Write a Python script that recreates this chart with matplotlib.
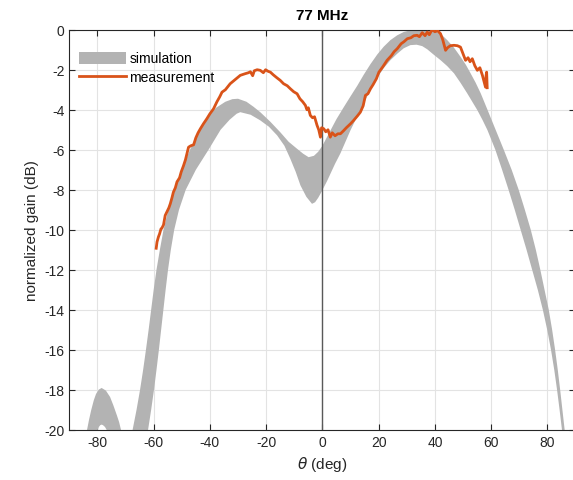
import matplotlib.pyplot as plt
import numpy as np

plt.rcParams['font.family'] = ['Liberation Sans', 'DejaVu Sans']
plt.rcParams['axes.unicode_minus'] = False

# simulation band: upper envelope (theta in deg, gain in dB)
theta_upper = [-90, -86, -84.5, -83.7, -83, -82.2, -81.3, -80.5, -79.5, -78.5, -77, -75.5, -74.3, -73,
               -72.3, -71.6, -71, -70.2, -69.5, -68.7, -68, -67.5, -66.1, -64.85, -63.75, -62.75, -61.8,
               -60.9, -60.0, -59.0, -57.8, -56.5, -54.8, -52.6, -50.0, -47.1, -43.5, -40, -37.8, -34.5,
               -32, -30, -27, -24.5, -22.1, -18.5, -15, -12, -9, -6.8, -4.9, -3, -1.5, 0, 1.5, 3, 5,
               7.6, 10, 12.4, 14.7, 17.1, 19.5, 21.8, 24.2, 26.6, 29, 31.3, 35, 39.6, 42, 44.4, 46.8,
               49.1, 51, 52.7, 54.5, 56.3, 58.7, 61.6, 64.5, 67.3, 69.8, 72, 74.1, 75.9, 77.5, 79, 80.5,
               81.7, 82.75, 83.7, 84.55, 85.35, 86.15, 87.5, 90]
gain_upper = [-30, -24, -21, -20, -19.5, -19.0, -18.52, -18.2, -17.98, -17.9, -18.03, -18.35, -18.78, -19.3,
              -19.6, -20, -20.6, -22, -23, -22, -20.7, -20, -19, -18, -17, -16, -15,
              -14, -13, -12, -11, -10, -9, -8, -7, -6, -5, -4.25, -3.9, -3.6,
              -3.47, -3.45, -3.6, -3.85, -4.12, -4.6, -5.12, -5.6, -5.95, -6.2, -6.37, -6.3, -6.1, -5.8, -5.4, -5.0, -4.47,
              -3.87, -3.33, -2.8, -2.25, -1.72, -1.24, -0.85, -0.52, -0.28, -0.11, -0.03, 0, -0.02, -0.2, -0.52, -0.9,
              -1.35, -1.75, -2.18, -2.65, -3.18, -4, -5, -6, -7, -8, -9, -10, -11, -12, -13, -14,
              -15, -16, -17, -18, -19, -20, -24, -30]

# simulation band: lower envelope
theta_lower = [-90, -81, -79.9, -79.5, -79, -78.5, -78, -77.3, -76.7, -75.5, -73, -65, -62.0, -60.9,
               -59.9, -59.0, -58.15, -57.35, -56.55, -55.75, -54.9, -53.9, -52.7, -51.0, -48.6, -45.0,
               -40.5, -36.2, -33, -30.5, -29.2, -25.5, -22.1, -19, -16.1, -13.5, -11.4, -9.5, -7.8,
               -5.7, -3.7, -2.6, -1.5, -0.5, 0.5, 1.7, 2.85, 4.5, 6.4, 8.2, 10, 12.4, 14.7, 17.1, 19.5,
               21.8, 24.2, 26.6, 28.9, 31.3, 33.5, 35.5, 37.3, 39.6, 42, 44.4, 46.8, 49.1, 51.5, 53.3,
               55.1, 56.9, 58.7, 61.5, 63.9, 66.2, 68.4, 70.5, 72.6, 74.6, 76.6, 78.4, 79.95, 81.3,
               82.45, 83.45, 84.35, 85.2, 86.5, 90]
gain_lower = [-30, -21, -20, -19.85, -19.76, -19.73, -19.76, -19.85, -20, -21.5, -25, -25, -20, -19,
              -18, -17, -16, -15, -14, -13, -12, -11, -10, -9, -8, -7,
              -6, -5, -4.5, -4.2, -4.12, -4.25, -4.53, -4.85, -5.28, -5.8, -6.45, -7.1, -7.78,
              -8.35, -8.7, -8.62, -8.4, -8.15, -7.88, -7.55, -7.2, -6.7, -6.18, -5.6, -5.02, -4.33, -3.68, -3.0, -2.4,
              -1.92, -1.52, -1.2, -0.93, -0.77, -0.75, -0.82, -0.98, -1.25, -1.52, -1.82, -2.18, -2.65, -3.18, -3.6,
              -4.02, -4.5, -5.02, -6, -7, -8, -9, -10, -11, -12, -13, -14, -15, -16,
              -17, -18, -19, -20, -23, -30]

# measured pattern
theta_meas = [-59.1, -58.8, -58.3, -57.9, -57.4, -57.1, -56.5, -55.9, -55.3, -54.6, -54.1, -53.5,
              -53.0, -52.3, -51.7, -50.8, -50.2, -49.4, -48.7, -48.0, -47.6, -46.8, -45.8, -45.0,
              -44.2, -43.4, -42.3, -41.1, -40.0, -38.7, -37.5, -36.5, -35.7, -34.5, -32.8, -31.5,
              -30.2, -29.2, -27.5, -26.3, -25.6, -24.8, -24.2, -23.2, -22.1, -21.0, -20.2, -19.3,
              -18.5, -17.5, -16.2, -15.0, -13.8, -12.5, -11.4, -10.2, -9.0, -8.0, -7.0, -6.05,
              -5.5, -5.0, -4.3, -3.5, -2.8, -1.9, -1.3, -0.7, -0.3, 0.5, 1.2, 2.0, 2.8, 3.5, 4.5,
              5.5, 6.4, 7.5, 8.5, 10.0, 11.0, 12.5, 13.5, 14.5, 15.3, 16.2, 17.1, 18.0, 19.2, 20.1,
              21.5, 23.0, 24.5, 25.5, 26.6, 28.0, 29.0, 30.2, 31.5, 32.5, 33.7, 34.5, 35.5, 36.5,
              37.3, 38.0, 39.0, 40.0, 41.0, 42.0, 42.8, 43.8, 44.5, 45.5, 46.8, 48.0, 49.1, 50.0,
              50.9, 51.8, 52.5, 53.3, 54.2, 55.1, 56.0, 56.9, 57.5, 58.0, 58.2, 58.4, 58.6]
gain_meas = [-10.92, -10.6, -10.35, -10.2, -9.95, -9.92, -9.75, -9.28, -9.1, -8.9, -8.7, -8.4,
             -8.12, -7.9, -7.6, -7.4, -7.1, -6.8, -6.5, -6.1, -5.87, -5.8, -5.75, -5.4,
             -5.15, -4.95, -4.7, -4.45, -4.2, -3.95, -3.6, -3.35, -3.12, -3.0, -2.7, -2.55,
             -2.4, -2.28, -2.2, -2.15, -2.1, -2.3, -2.05, -2.0, -2.03, -2.15, -2.0, -2.08,
             -2.12, -2.25, -2.4, -2.53, -2.7, -2.8, -2.95, -3.1, -3.2, -3.45, -3.6, -3.78,
             -4.0, -3.9, -4.28, -4.4, -4.35, -4.78, -5.0, -5.37, -4.9, -4.95, -5.1, -5.0, -5.37, -5.15, -5.3,
             -5.2, -5.2, -5.05, -4.9, -4.7, -4.55, -4.3, -4.12, -3.8, -3.28, -3.2, -2.95, -2.75, -2.45, -2.12,
             -1.85, -1.53, -1.3, -1.1, -0.95, -0.7, -0.6, -0.45, -0.4, -0.3, -0.28, -0.35, -0.15, -0.3,
             -0.12, -0.25, 0.0, -0.1, -0.05, -0.2, -0.5, -1.03, -0.9, -0.8, -0.78, -0.8, -0.87, -1.2,
             -1.53, -1.4, -1.6, -1.45, -1.8, -2.03, -1.9, -2.28, -2.6, -2.87, -2.3, -2.12, -2.9]

fig = plt.figure(figsize=(5.73, 4.81), dpi=100)
ax = fig.add_axes([69.3 / 573, 50 / 481, (575.5 - 69.3) / 573, (431 - 30.7) / 481])

band_x = np.concatenate([theta_upper, theta_lower[::-1]])
band_y = np.concatenate([gain_upper, gain_lower[::-1]])
ax.fill(band_x, band_y, color='#b3b3b3', lw=0, zorder=1, label='simulation')
ax.axvline(0, color='#595959', lw=1.0, zorder=2)
ax.plot(theta_meas, gain_meas, color='#D95319', lw=2.0, zorder=3, label='measurement')

ax.set_xlim(-90, 90)
ax.set_ylim(-20, 0)
ax.set_xticks(np.arange(-80, 81, 20))
ax.set_yticks(np.arange(-20, 1, 2))
ax.grid(True, color='#e3e3e3', lw=0.8)
ax.set_axisbelow(True)
ax.tick_params(direction='in', top=True, right=True, length=4, labelsize=10, colors='#262626')
for s in ax.spines.values():
    s.set_color('#262626')
    s.set_linewidth(0.8)

ax.set_xlabel(r'$\theta$ (deg)', fontsize=11, color='#262626')
ax.set_ylabel('normalized gain (dB)', fontsize=11, color='#262626')
ax.set_title('77 MHz', fontsize=11, fontweight='bold', pad=7.5)

ax.legend(loc='upper left', frameon=False, fontsize=10, handlelength=3.4, handleheight=0.95,
          labelspacing=0.35, handletextpad=0.25, borderaxespad=0.5, bbox_to_anchor=(-0.006, 0.977))

plt.savefig('out.png', dpi=100)
